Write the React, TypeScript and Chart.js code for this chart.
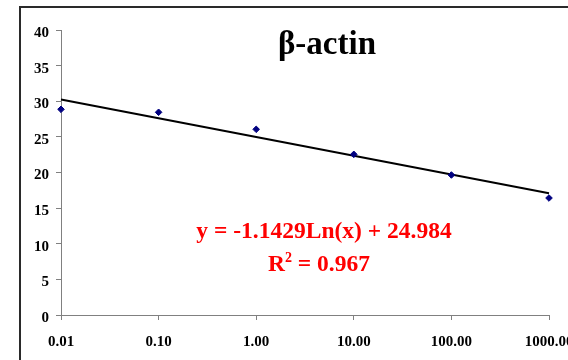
import React, { useEffect, useRef } from "react";
import { Chart, registerables } from "chart.js";

Chart.register(...registerables);

// ---- data ----
const concentrations = [0.01, 0.1, 1, 10, 100, 1000];
const ctValues = [28.87, 28.45, 26.06, 22.55, 19.65, 16.42];
const trendX = [0.01, 1000];
const trendY = [30.25, 17.09];
const xTickValues = [0.01, 0.1, 1, 10, 100, 1000];
const yMin = 0;
const yMax = 40;
const yStep = 5;
const titleText = "β-actin";
const equationText = "y = -1.1429Ln(x) + 24.984";
const r2Value = "0.967";

const FONT = "'Liberation Serif', 'Times New Roman', serif";

const overlayPlugin = {
  id: "overlay",
  beforeDraw(chart: any) {
    const ctx = chart.ctx;
    ctx.save();
    ctx.strokeStyle = "#2a2a2a";
    ctx.lineWidth = 2;
    ctx.beginPath();
    ctx.moveTo(20, 400);
    ctx.lineTo(20, 7);
    ctx.lineTo(700, 7);
    ctx.stroke();
    ctx.restore();
  },
  afterDraw(chart: any) {
    const ctx = chart.ctx;
    ctx.save();
    ctx.textBaseline = "alphabetic";
    // title
    ctx.fillStyle = "#000";
    ctx.font = `bold 33px ${FONT}`;
    ctx.textAlign = "center";
    ctx.fillText(titleText, 327, 54);
    // equation
    ctx.fillStyle = "#ff0000";
    ctx.font = `bold 23.5px ${FONT}`;
    ctx.fillText(equationText, 324, 238);
    // R^2 line
    ctx.textAlign = "left";
    ctx.font = `bold 23.5px ${FONT}`;
    const wR = ctx.measureText("R").width;
    const rest = " = " + r2Value;
    const wRest = ctx.measureText(rest).width;
    ctx.font = `bold 14px ${FONT}`;
    const wSup = ctx.measureText("2").width;
    const total = wR + wSup + wRest;
    let x = 319 - total / 2;
    const base = 271;
    ctx.font = `bold 23.5px ${FONT}`;
    ctx.fillText("R", x, base);
    x += wR;
    ctx.font = `bold 14px ${FONT}`;
    ctx.fillText("2", x, base - 9);
    x += wSup;
    ctx.font = `bold 23.5px ${FONT}`;
    ctx.fillText(rest, x, base);
    ctx.restore();
  },
};

export default function App() {
  const ref = useRef<HTMLCanvasElement | null>(null);

  useEffect(() => {
    const canvas = ref.current;
    if (!canvas) return;
    const chart = new Chart(canvas, {
      type: "scatter",
      data: {
        datasets: [
          {
            label: "Trendline",
            data: trendX.map((x, i) => ({ x, y: trendY[i] })),
            showLine: true,
            borderColor: "#000",
            borderWidth: 2,
            pointRadius: 0,
            fill: false,
            clip: false as any,
            order: 2,
          },
          {
            label: "β-actin",
            data: concentrations.map((x, i) => ({ x, y: ctValues[i] })),
            showLine: false,
            pointStyle: "rectRot",
            pointRadius: 3.3,
            backgroundColor: "#000080",
            borderColor: "#000080",
            borderWidth: 1,
            clip: false as any,
            order: 1,
          },
        ],
      },
      options: {
        responsive: false,
        animation: false,
        devicePixelRatio: 1,
        layout: { padding: { left: 0, right: 19, top: 30, bottom: 0 } },
        plugins: {
          legend: { display: false },
          tooltip: { enabled: false },
          title: { display: false },
        },
        scales: {
          x: {
            type: "logarithmic",
            min: 0.01,
            max: 1000,
            afterBuildTicks: (scale: any) => {
              scale.ticks = xTickValues.map((v) => ({ value: v }));
            },
            afterFit: (scale: any) => {
              scale.height = 45;
              scale.paddingLeft = 0;
              scale.paddingRight = 0;
              scale.paddingTop = 0;
              scale.paddingBottom = 0;
            },
            ticks: {
              autoSkip: false,
              maxRotation: 0,
              minRotation: 0,
              padding: 13,
              color: "#000",
              font: { family: FONT, size: 15, weight: "bold" },
              callback: (v: any) => Number(v).toFixed(2),
            },
            grid: {
              display: true,
              drawOnChartArea: false,
              drawTicks: true,
              tickLength: 5,
              color: "#808080",
            },
            border: { display: true, color: "#808080", width: 1 },
          },
          y: {
            type: "linear",
            min: yMin,
            max: yMax,
            afterFit: (scale: any) => {
              scale.width = 61;
              scale.paddingLeft = 0;
              scale.paddingRight = 0;
              scale.paddingTop = 0;
              scale.paddingBottom = 0;
            },
            ticks: {
              stepSize: yStep,
              padding: 7,
              labelOffset: 3,
              color: "#000",
              font: { family: FONT, size: 15, weight: "bold" },
            },
            grid: {
              display: true,
              drawOnChartArea: false,
              drawTicks: true,
              tickLength: 5,
              color: "#808080",
            },
            border: { display: true, color: "#808080", width: 1 },
          },
        },
      } as any,
      plugins: [overlayPlugin],
    });
    return () => chart.destroy();
  }, []);

  return (
    <div
      style={{
        position: "fixed",
        left: 0,
        top: 0,
        width: 568,
        height: 360,
        overflow: "hidden",
        background: "#fff",
      }}
    >
      <canvas ref={ref} width={568} height={360} style={{ display: "block", width: 568, height: 360 }} />
    </div>
  );
}
